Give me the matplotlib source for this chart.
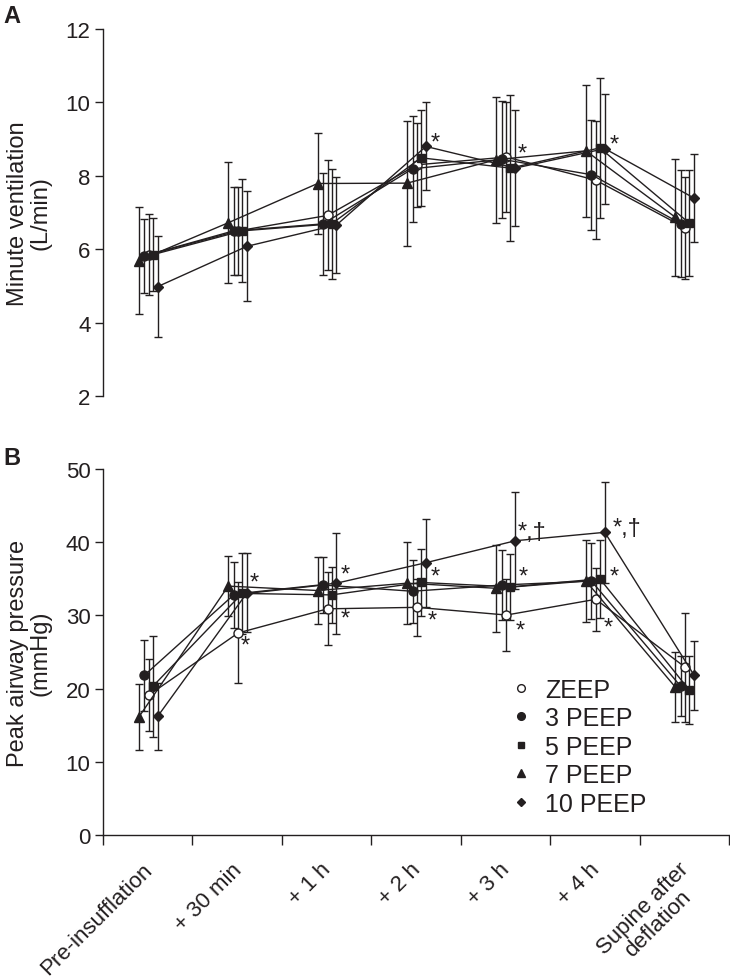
import matplotlib
matplotlib.use('Agg')
import matplotlib.pyplot as plt
from matplotlib.lines import Line2D
from matplotlib.transforms import ScaledTranslation
import numpy as np

plt.rcParams['font.family'] = ['Liberation Sans', 'DejaVu Sans']

# ---------------- data ----------------
categories = ['Pre-insufflation', '+ 30 min', '+ 1 h', '+ 2 h', '+ 3 h', '+ 4 h',
              'Supine after\ndeflation']
series = ['ZEEP', '3 PEEP', '5 PEEP', '7 PEEP', '10 PEEP']

# Panel A: minute ventilation (L/min), mean and SD
mv_zeep = [5.85, 6.50, 6.92, 8.30, 8.51, 7.88, 6.58]
mv_zeep_sd = [1.10, 1.20, 1.50, 1.15, 1.50, 1.60, 1.40]
mv_3peep = [5.82, 6.50, 6.69, 8.19, 8.45, 8.03, 6.70]
mv_3peep_sd = [1.00, 1.20, 1.38, 1.45, 1.60, 1.50, 1.45]
mv_5peep = [5.85, 6.50, 6.69, 8.49, 8.21, 8.76, 6.71]
mv_5peep_sd = [1.00, 1.40, 1.50, 1.30, 2.00, 1.90, 1.45]
mv_7peep = [5.69, 6.72, 7.79, 7.80, 8.44, 8.68, 6.87]
mv_7peep_sd = [1.45, 1.65, 1.38, 1.70, 1.72, 1.80, 1.60]
mv_10peep = [4.98, 6.08, 6.66, 8.80, 8.21, 8.74, 7.39]
mv_10peep_sd = [1.38, 1.50, 1.30, 1.20, 1.58, 1.50, 1.20]

# Panel B: peak airway pressure (mmHg), mean and SD
pap_zeep = [19.1, 27.6, 30.9, 31.1, 30.05, 32.2, 22.9]
pap_zeep_sd = [4.9, 6.9, 5.0, 3.9, 4.9, 4.3, 7.4]
pap_3peep = [21.8, 32.8, 34.15, 33.3, 34.15, 34.7, 20.3]
pap_3peep_sd = [4.9, 4.5, 3.8, 4.3, 4.8, 5.2, 4.1]
pap_5peep = [20.3, 33.0, 32.8, 34.5, 33.9, 35.0, 19.8]
pap_5peep_sd = [6.9, 5.5, 3.8, 4.6, 4.5, 5.3, 4.6]
pap_7peep = [16.1, 34.0, 33.4, 34.4, 33.7, 34.7, 20.2]
pap_7peep_sd = [4.5, 4.1, 4.6, 5.6, 5.9, 5.6, 4.8]
pap_10peep = [16.2, 33.1, 34.4, 37.2, 40.2, 41.35, 21.8]
pap_10peep_sd = [4.6, 5.4, 6.9, 6.0, 6.6, 6.9, 4.7]

# significance marks: (x in category units, y in data units, text)
marks_a = [(3.22, 8.90, '*'), (4.19, 8.62, '*'), (5.22, 8.85, '*')]
marks_b = [(1.19, 34.5, '*'), (1.09, 25.9, '*'),
           (2.21, 35.6, '*'), (2.21, 29.6, '*'),
           (3.21, 35.3, '*'), (3.18, 29.3, '*'),
           (4.20, 35.3, '*'), (4.16, 28.0, '*'),
           (5.22, 35.3, '*'), (5.15, 28.4, '*')]
marks_b_dagger = [(4.14, 41.4, '*,†'), (5.20, 41.9, '*,†')]

# ---------------- style ----------------
ink = '#231f20'
styles = {
    'ZEEP':    dict(marker='o', mfc='white', ms=6.5, off=0.011),
    '3 PEEP':  dict(marker='o', mfc=ink, ms=6.5, off=-0.039),
    '5 PEEP':  dict(marker='s', mfc=ink, ms=5.5, off=0.056),
    '7 PEEP':  dict(marker='^', mfc=ink, ms=6.5, off=-0.100),
    '10 PEEP': dict(marker='D', mfc=ink, ms=5.0, off=0.111),
}

fig = plt.figure(figsize=(7.3, 9.79), dpi=100)
axA = fig.add_axes([103 / 730, 1 - 397 / 979, 626 / 730, 367 / 979])
axB = fig.add_axes([103 / 730, 1 - 836 / 979, 626 / 730, 366 / 979])

x = np.arange(len(categories))

dataA = {'ZEEP': (mv_zeep, mv_zeep_sd), '3 PEEP': (mv_3peep, mv_3peep_sd),
         '5 PEEP': (mv_5peep, mv_5peep_sd), '7 PEEP': (mv_7peep, mv_7peep_sd),
         '10 PEEP': (mv_10peep, mv_10peep_sd)}
dataB = {'ZEEP': (pap_zeep, pap_zeep_sd), '3 PEEP': (pap_3peep, pap_3peep_sd),
         '5 PEEP': (pap_5peep, pap_5peep_sd), '7 PEEP': (pap_7peep, pap_7peep_sd),
         '10 PEEP': (pap_10peep, pap_10peep_sd)}

for ax, data in ((axA, dataA), (axB, dataB)):
    for name in series:
        st = styles[name]
        vals, sd = data[name]
        ax.errorbar(x + st['off'], vals, yerr=sd, marker=st['marker'], ms=st['ms'],
                    mfc=st['mfc'], mec=ink, mew=1.0, color=ink, lw=1.0,
                    elinewidth=1.0, capsize=3.2, capthick=1.0, clip_on=False)
    ax.set_xlim(-0.5, 6.5)
    for s in ('top', 'right'):
        ax.spines[s].set_visible(False)
    ax.spines['left'].set_linewidth(1.0)
    ax.spines['left'].set_color(ink)
    ax.tick_params(axis='y', direction='out', length=6, width=1.0, colors=ink,
                   labelsize=16, pad=3)

# Panel A
axA.set_ylim(2, 12)
axA.set_yticks([2, 4, 6, 8, 10, 12])
axA.spines['bottom'].set_visible(False)
axA.set_xticks([])
axA.set_ylabel('Minute ventilation\n(L/min)', fontsize=17, color=ink, linespacing=1.0)
axA.yaxis.set_label_coords(-0.083, 0.5)
for (mx, my, t) in marks_a:
    axA.text(mx, my, t, fontsize=17, ha='center', va='center', color=ink)

# Panel B
axB.set_ylim(0, 50)
axB.set_yticks([0, 10, 20, 30, 40, 50])
axB.spines['bottom'].set_linewidth(1.0)
axB.spines['bottom'].set_color(ink)
axB.set_xticks(x)
axB.set_xticks(np.arange(-0.5, 7.0, 1.0), minor=True)
axB.tick_params(axis='x', which='major', length=0, pad=17)
axB.tick_params(axis='x', which='minor', direction='out', length=7, width=1.0, colors=ink)
axB.set_xticklabels(categories, rotation=45, ha='right', va='top',
                    rotation_mode='anchor', fontsize=16, color=ink,
                    multialignment='center', linespacing=1.0)
shift = ScaledTranslation(-6 / 100, 0, fig.dpi_scale_trans)
for lab in axB.get_xticklabels():
    lab.set_transform(lab.get_transform() + shift)
axB.set_ylabel('Peak airway pressure\n(mmHg)', fontsize=17, color=ink, linespacing=1.0)
axB.yaxis.set_label_coords(-0.083, 0.5)
for (mx, my, t) in marks_b:
    axB.text(mx, my, t, fontsize=17, ha='center', va='center', color=ink)
for (mx, my, t) in marks_b_dagger:
    axB.text(mx, my, t, fontsize=17, ha='left', va='center', color=ink)

handles = [Line2D([], [], ls='none', marker=styles[n]['marker'],
                  ms=styles[n]['ms'] * 0.85, mfc=styles[n]['mfc'], mec=ink, mew=1.0)
           for n in series]
axB.legend(handles, series, loc='upper left', bbox_to_anchor=(0.652, 0.43),
           frameon=False, fontsize=18, handlelength=0.8, handletextpad=0.55,
           labelspacing=0.18, borderpad=0, borderaxespad=0, labelcolor=ink)

fig.text(3 / 730, 1 - 5 / 979, 'A', fontsize=17, fontweight='bold', ha='left', va='top', color=ink)
fig.text(3 / 730, 1 - 447 / 979, 'B', fontsize=17, fontweight='bold', ha='left', va='top', color=ink)

fig.savefig('out.png', dpi=100)
